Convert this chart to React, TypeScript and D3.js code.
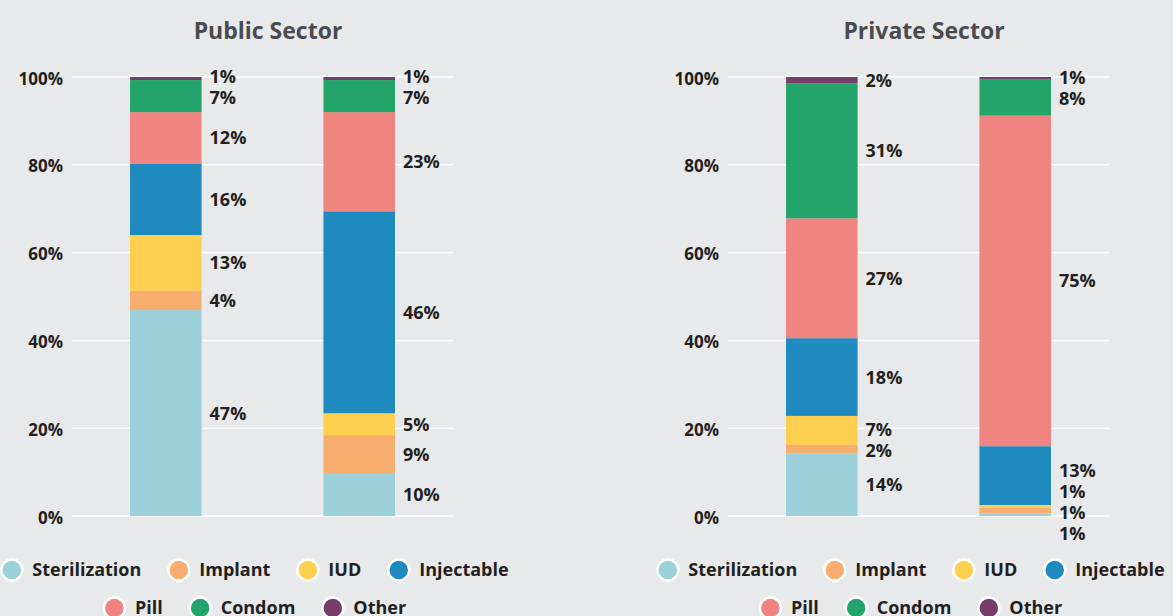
import React, { useRef, useEffect } from 'react';
import * as d3 from 'd3';

// contraceptive method mix, share of users by source (%)
const methods = ['Sterilization', 'Implant', 'IUD', 'Injectable', 'Pill', 'Condom', 'Other'];
const methodColors = ['#9bcfda', '#f7ad6e', '#ffcf4f', '#1f8ac0', '#ef8481', '#23a46b', '#763f6a'];

const publicFirst = [46.9, 4.4, 12.7, 16.3, 11.7, 7.3, 0.7];
const publicSecond = [9.8, 8.6, 5.0, 46.0, 22.6, 7.3, 0.7];
const privateFirst = [14.3, 1.9, 6.6, 17.7, 27.3, 30.7, 1.5];
const privateSecond = [0.6, 1.3, 0.6, 13.4, 75.3, 8.2, 0.6];

const panelTitles = ['Public Sector', 'Private Sector'];
const panelBars = [[publicFirst, publicSecond], [privateFirst, privateSecond]];
const yTicks = [0, 20, 40, 60, 80, 100];

const W = 1173;
const H = 616;
const FONT = '"Open Sans", Lato, sans-serif';

// push labels apart so they don't overlap
function dodge(ys: number[], gap: number) {
  const out = ys.slice();
  for (let k = 0; k < 300; k++) {
    const order = d3.range(out.length).sort((a, b) => out[a] - out[b]);
    for (let i = 0; i < order.length - 1; i++) {
      const a = order[i], b = order[i + 1];
      const d = out[b] - out[a];
      if (d < gap) {
        const shift = (gap - d) / 2;
        out[a] -= shift;
        out[b] += shift;
      }
    }
  }
  return out;
}

export default function App() {
  const svgRef = useRef<SVGSVGElement>(null);

  useEffect(() => {
    document.body.style.margin = '0';
    if (!svgRef.current) return;
    const svg = d3.select(svgRef.current);
    svg.selectAll('*').remove();

    svg.append('rect').attr('width', W).attr('height', H).attr('fill', '#e8e9eb');

    const panelW = 656;

    panelTitles.forEach((title, p) => {
      const g = svg.append('g').attr('transform', `translate(${p * panelW},0)`);

      const x = d3.scaleBand<number>()
        .domain([0, 1])
        .range([72, 453])
        .paddingInner(0.63)
        .paddingOuter(0.3);
      const y = d3.scaleLinear().domain([0, 100]).range([516, 77]);

      // title
      g.append('text')
        .attr('x', 268)
        .attr('y', 39)
        .attr('text-anchor', 'middle')
        .attr('font-family', FONT)
        .attr('font-weight', 700)
        .attr('font-size', 23)
        .attr('fill', '#4a4b4d')
        .text(title);

      // gridlines + tick labels
      yTicks.forEach(t => {
        g.append('line')
          .attr('x1', 72).attr('x2', 453)
          .attr('y1', y(t)).attr('y2', y(t))
          .attr('stroke', '#ffffff')
          .attr('stroke-width', 1.5);
        g.append('text')
          .attr('x', 63)
          .attr('y', y(t))
          .attr('dy', '0.45em')
          .attr('text-anchor', 'end')
          .attr('font-family', FONT)
          .attr('font-weight', 700)
          .attr('font-size', 17)
          .attr('fill', '#231f20')
          .text(`${t}%`);
      });

      // stacked bars
      panelBars[p].forEach((vals, b) => {
        const x0 = x(b) as number;
        const bw = x.bandwidth();
        let acc = 0;
        const mids: number[] = [];
        vals.forEach((v, i) => {
          const y0 = y(acc);
          const y1 = y(acc + v);
          g.append('rect')
            .attr('x', x0)
            .attr('y', y1)
            .attr('width', bw)
            .attr('height', y0 - y1)
            .attr('fill', methodColors[i]);
          mids.push((y0 + y1) / 2);
          acc += v;
        });

        const ly = dodge(mids, 21);
        vals.forEach((v, i) => {
          g.append('text')
            .attr('x', x0 + bw + 8)
            .attr('y', ly[i])
            .attr('dy', '0.36em')
            .attr('font-family', FONT)
            .attr('font-weight', 700)
            .attr('font-size', 18)
            .attr('fill', '#231f20')
            .text(`${Math.round(v)}%`);
        });
      });

      // legend
      const rows = [methods.slice(0, 4), methods.slice(4)];
      const rowY = [570, 608];
      rows.forEach((row, r) => {
        const lg = g.append('g');
        let cx = 0;
        row.forEach(name => {
          const i = methods.indexOf(name);
          const item = lg.append('g').attr('transform', `translate(${cx},${rowY[r]})`);
          item.append('circle')
            .attr('cx', 10.5)
            .attr('cy', 0)
            .attr('r', 10.5)
            .attr('fill', methodColors[i])
            .attr('stroke', '#ffffff')
            .attr('stroke-width', 2.5);
          const txt = item.append('text')
            .attr('x', 31)
            .attr('y', 0)
            .attr('dy', '0.36em')
            .attr('font-family', FONT)
            .attr('font-weight', 700)
            .attr('font-size', 18)
            .attr('fill', '#231f20')
            .text(name);
          const tw = (txt.node() as SVGTextElement).getComputedTextLength();
          cx += 31 + tw + 27;
        });
        const total = cx - 27;
        lg.attr('transform', `translate(${255 - total / 2},0)`);
      });
    });
  }, []);

  return <svg ref={svgRef} width={W} height={H} style={{ display: 'block' }} />;
}
